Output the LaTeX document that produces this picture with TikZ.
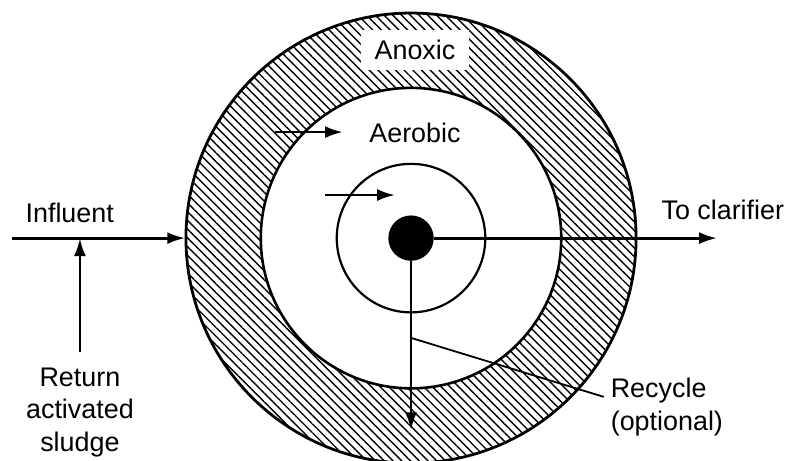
\documentclass[tikz,border=0pt]{standalone}
\usepackage{fontspec}
\setmainfont{Liberation Sans}
\usepackage{tikz}
\usetikzlibrary{positioning, arrows.meta, patterns.meta}

\begin{document}
\begin{tikzpicture}[font=\fontsize{13.5}{16.5}\selectfont,
  flow/.style={-{Latex[length=9pt,width=6pt]}, line width=1.4pt},
  ring/.style={circle, draw, inner sep=0pt}]
\useasboundingbox (-7.25,-3.93) rectangle (6.72,4.20);

% Tank: anoxic ring, aerobic zone, core
\node[ring, line width=1.4pt, pattern={Lines[angle=-45,distance=3.1pt,line width=0.7pt]}, minimum size=7.94cm] (anoxic) at (0,0) {};
\node[ring, line width=1.3pt, fill=white, minimum size=5.3cm] (aerobic) at (0,0) {};
\node[ring, line width=1.1pt, minimum size=2.62cm] (core) at (0,0) {};
\node[circle, fill=black, inner sep=0pt, minimum size=0.8cm] (dot) at (0,0) {};

\node[fill=white, inner xsep=7pt, inner ysep=5pt] (anoxlabel) at (0.07,3.32) {Anoxic};
\node (aerolabel) at (0.07,1.85) {Aerobic};

% Flow inside the tank
\coordinate (swirlA) at (-2.40,1.87); \coordinate (swirlAend) at (-1.20,1.87);
\coordinate (swirlB) at (-1.52,0.76); \coordinate (swirlBend) at (-0.28,0.76);
\draw[flow] (swirlA) -- (swirlAend);
\draw[flow] (swirlB) -- (swirlBend);

% Influent and return sludge
\coordinate (inflow) at (-7.04,0);
\node (influent) at (-6.02,0.44) {Influent};
\draw[flow] (inflow) -- (anoxic.west);
\node[anchor=north, align=center] (ras) at (-5.84,-2.16) {Return\\activated\\sludge};
\draw[flow] ([yshift=0.16cm]ras.north) -- (ras.north |- inflow);

% Outlets
\coordinate (outflow) at (5.40,0);
\node (clarifier) at (5.50,0.49) {To clarifier};
\draw[flow] (dot.east) -- (outflow);
\coordinate (recycleend) at (0,-3.39);
\draw[flow] (dot.south) -- (recycleend);
\coordinate (tap) at (0,-1.76);
\node[anchor=west, align=left] (recycle) at (3.40,-2.98) {Recycle\\(optional)};
\draw[line width=0.9pt] (tap) -- ([yshift=0.18cm]recycle.west);
\end{tikzpicture}
\end{document}
